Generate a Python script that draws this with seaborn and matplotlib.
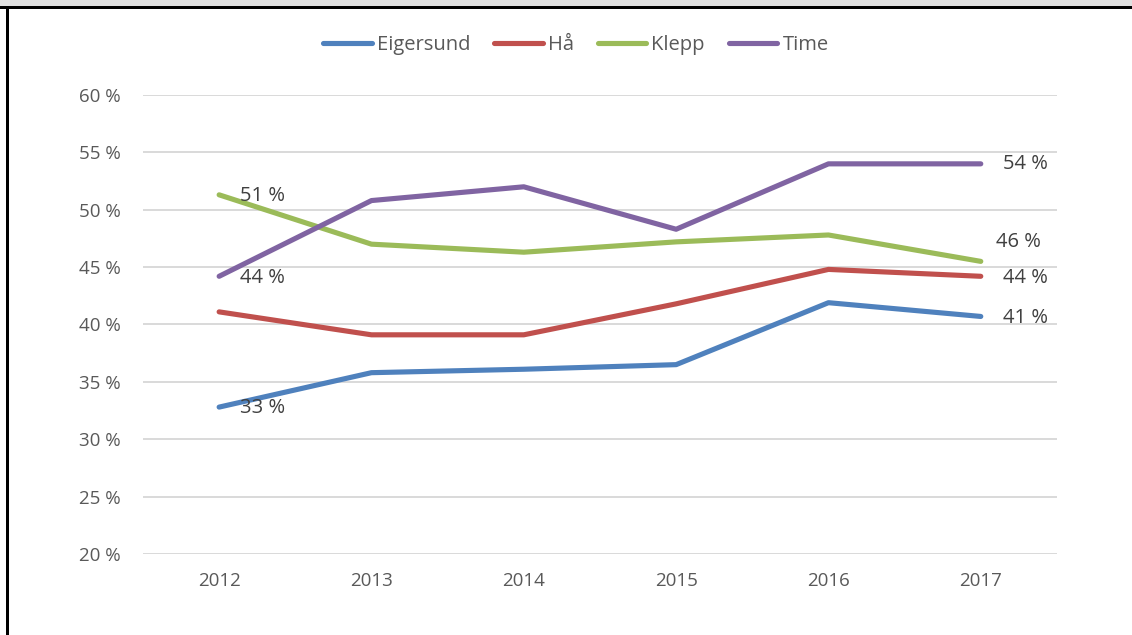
import pandas as pd
import matplotlib
matplotlib.use('Agg')
import matplotlib.pyplot as plt
import seaborn as sns
from matplotlib.patches import Rectangle
from matplotlib.ticker import FuncFormatter

# Data (percent)
years = ['2012', '2013', '2014', '2015', '2016', '2017']
eigersund = [32.8, 35.8, 36.1, 36.5, 41.9, 40.7]
haa = [41.1, 39.1, 39.1, 41.8, 44.8, 44.2]
klepp = [51.3, 47.0, 46.3, 47.2, 47.8, 45.5]
time_ = [44.2, 50.8, 52.0, 48.3, 54.0, 54.0]
names = ['Eigersund', 'Hå', 'Klepp', 'Time']
colors = ['#4F81BD', '#C0504D', '#9BBB59', '#8064A2']

# label offsets (points) for first / last value of each series
first_off = {'Eigersund': (15, -1), 'Hå': None, 'Klepp': (15, -1), 'Time': (15, -1)}
last_off = {'Eigersund': (16, -1), 'Hå': (16, -1), 'Klepp': (11, 14), 'Time': (16, 0)}

sns.set_theme(style='white')
plt.rcParams['font.family'] = ['Open Sans', 'DejaVu Sans']

df = pd.DataFrame({'year': years * 4,
                   'value': eigersund + haa + klepp + time_,
                   'kommune': sum([[n] * len(years) for n in names], [])})

fig = plt.figure(figsize=(11.32, 6.35), dpi=100)
ax = fig.add_axes([0.1263, 0.1276, 0.8074, 0.7228])

sns.lineplot(data=df, x='year', y='value', hue='kommune', palette=colors,
             linewidth=3.7, ax=ax, legend=True, sort=False)
for ln in ax.lines:
    ln.set_solid_capstyle('round')

ax.set_xlim(-0.5, 5.5)
ax.set_ylim(20, 60)
ax.set_yticks(range(20, 61, 5))
ax.yaxis.set_major_formatter(FuncFormatter(lambda v, p: f'{v:.0f} %'))
ax.grid(axis='y', color='#D9D9D9', linewidth=1.4)
ax.set_axisbelow(True)
for s in ax.spines.values():
    s.set_visible(False)
ax.tick_params(axis='both', length=0, labelsize=13.5, colors='#595959')
ax.tick_params(axis='y', pad=16)
ax.tick_params(axis='x', pad=13)
ax.set_xlabel('')
ax.set_ylabel('')

# data labels at the ends
for n, vals in zip(names, [eigersund, haa, klepp, time_]):
    for idx, offs in ((0, first_off[n]), (len(vals) - 1, last_off[n])):
        if offs is None:
            continue
        ax.annotate(f'{vals[idx]:.0f} %', (idx, vals[idx]), xytext=offs,
                    textcoords='offset points', ha='left', va='center',
                    fontsize=14.5, color='#404040')

# legend on top
handles, labels = ax.get_legend_handles_labels()
ax.get_legend().remove()
fig.legend(handles, labels, loc='center', bbox_to_anchor=(576 / 1132, 1 - 45 / 635),
           ncol=4, frameon=False, fontsize=14.5, handlelength=2.4, handletextpad=0.25,
           columnspacing=1.2, labelcolor='#595959')

# outer frame: grey strip at the top and black border lines
fig.patches.append(Rectangle((0, 1 - 7 / 635), 1, 7 / 635, transform=fig.transFigure,
                             facecolor='#E0E0E0', edgecolor='none'))
fig.patches.append(Rectangle((0, 1 - 9 / 635), 1, 3 / 635, transform=fig.transFigure,
                             facecolor='black', edgecolor='none'))
fig.patches.append(Rectangle((6 / 1132, 0), 3 / 1132, 1 - 7 / 635, transform=fig.transFigure,
                             facecolor='black', edgecolor='none'))

fig.savefig('out.png', dpi=100)
